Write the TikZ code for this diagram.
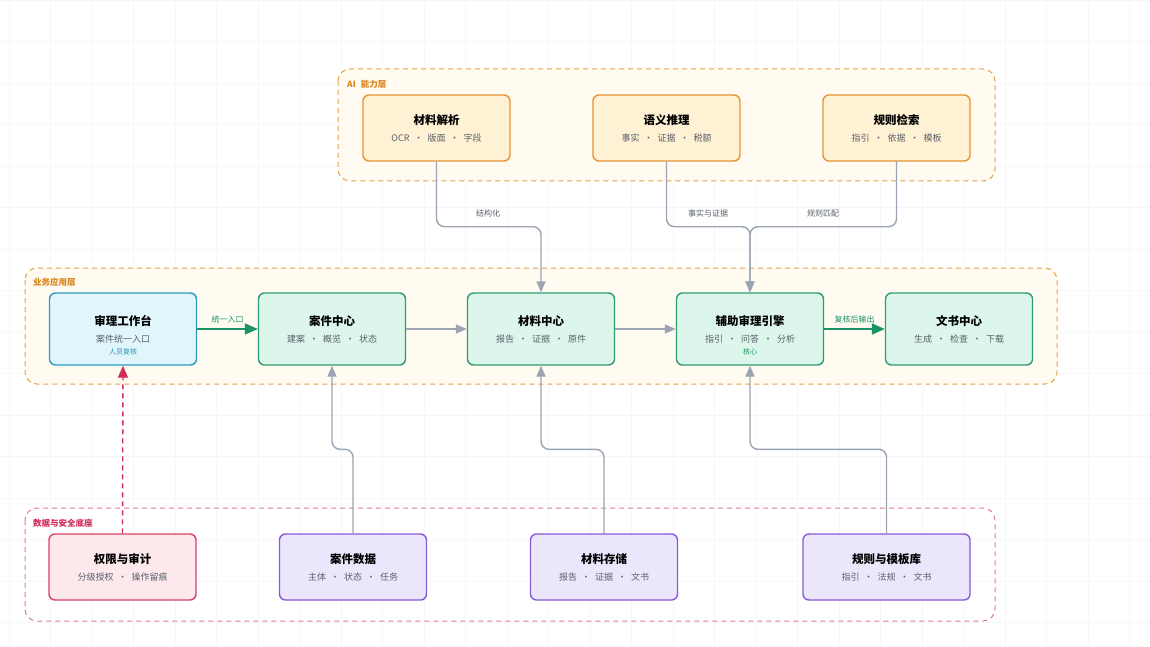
\documentclass[tikz,border=0pt]{standalone}
\usepackage{fontspec}
\setmainfont{Noto Sans CJK SC}
\usetikzlibrary{arrows.meta}

\definecolor{gridline}{HTML}{F6F7F8}
\definecolor{ailine}{HTML}{E3A24A}
\definecolor{aifill}{HTML}{FFFBF1}
\definecolor{aibox}{HTML}{FFF1D4}
\definecolor{aiborder}{HTML}{E39435}
\definecolor{ailabel}{HTML}{D9831C}
\definecolor{bizbox}{HTML}{DCF6EB}
\definecolor{bizborder}{HTML}{2E9C72}
\definecolor{deskbox}{HTML}{E0F6FB}
\definecolor{deskborder}{HTML}{2B9BC3}
\definecolor{deskmark}{HTML}{2B8FC0}
\definecolor{okgreen}{HTML}{1A9466}
\definecolor{secline}{HTML}{E07A98}
\definecolor{seclabel}{HTML}{D12C57}
\definecolor{secbox}{HTML}{FDE8EC}
\definecolor{secborder}{HTML}{D9436A}
\definecolor{databox}{HTML}{ECE6FD}
\definecolor{databorder}{HTML}{8B58D6}
\definecolor{flowgray}{HTML}{9AA4B2}
\definecolor{subtext}{HTML}{5A606B}

\newcommand{\dotsep}{\hspace{4.5pt}·\hspace{4.5pt}}
\newcommand{\boxtext}[2]{{\fontsize{11.5}{14}\selectfont\bfseries #1}\\[6pt]{\color{subtext}#2}}

\begin{document}
\begin{tikzpicture}[x=1pt,y=-1pt,
    box/.style={draw,rounded corners=6pt,line width=1.4pt,minimum width=147pt,
        minimum height=66pt,align=center,inner sep=0pt,font=\fontsize{9}{11}\selectfont},
    aibox/.style={box,fill=aibox,draw=aiborder},
    bizbox/.style={box,fill=bizbox,draw=bizborder,minimum height=72pt},
    deskbox/.style={bizbox,fill=deskbox,draw=deskborder},
    databox/.style={box,fill=databox,draw=databorder},
    secbox/.style={box,fill=secbox,draw=secborder},
    layer/.style={rounded corners=12pt,line width=1pt,dash pattern=on 5pt off 4pt},
    layertitle/.style={anchor=west,font=\fontsize{8.5}{10}\selectfont\bfseries,inner sep=0pt},
    flow/.style={draw=flowgray,line width=1.4pt,rounded corners=8pt,
        -{Triangle[length=11pt,width=9pt]}},
    okflow/.style={draw=okgreen,line width=2pt,-{Triangle[length=13pt,width=11pt]}},
    flowlabel/.style={font=\fontsize{8}{9}\selectfont,text=subtext,inner sep=1pt},
    note/.style={font=\fontsize{7}{8}\selectfont,inner sep=0pt}]

    \useasboundingbox[fill=white] (0,0) rectangle (1150,647);
    \foreach \gx in {9,50.5,...,1150} \draw[gridline,line width=0.6pt] (\gx,0) -- (\gx,647);
    \foreach \gy in {0,41.5,...,647} \draw[gridline,line width=0.6pt] (0,\gy) -- (1150,\gy);

    \draw[layer,draw=ailine,fill=aifill] (338,69) rectangle (995,181);
    \draw[layer,draw=ailine,fill=aifill] (25,268) rectangle (1057,384);
    \draw[layer,draw=secline] (25,508) rectangle (995,621);

    \node[layertitle,text=ailabel]  (ailayer)  at (347,84)  {AI\hspace{5pt}能力层};
    \node[layertitle,text=ailabel]  (bizlayer) at (33,282)  {业务应用层};
    \node[layertitle,text=seclabel] (seclayer) at (33,523)  {数据与安全底座};

    \node[aibox] (parse)  at (436.5,128) {\boxtext{材料解析}{OCR\dotsep 版面\dotsep 字段}};
    \node[aibox] (reason) at (666.5,128) {\boxtext{语义推理}{事实\dotsep 证据\dotsep 税额}};
    \node[aibox] (search) at (896.5,128) {\boxtext{规则检索}{指引\dotsep 依据\dotsep 模板}};

    \node[deskbox] (desk)   at (123,329)  {\boxtext{审理工作台}{案件统一入口}};
    \node[bizbox]  (cases)  at (332,329)  {\boxtext{案件中心}{建案\dotsep 概览\dotsep 状态}};
    \node[bizbox]  (mats)   at (541,329)  {\boxtext{材料中心}{报告\dotsep 证据\dotsep 原件}};
    \node[bizbox]  (engine) at (750,329)  {\boxtext{辅助审理引擎}{指引\dotsep 问答\dotsep 分析}};
    \node[bizbox]  (docs)   at (959,329)  {\boxtext{文书中心}{生成\dotsep 检查\dotsep 下载}};
    \node[note,text=deskmark] (desknote)   at (123,352) {人员复核};
    \node[note,text=okgreen]  (enginenote) at (750,352) {核心};

    \node[secbox]  (audit)    at (122.5,567) {\boxtext{权限与审计}{分级授权\dotsep 操作留痕}};
    \node[databox] (casedata) at (353,567)   {\boxtext{案件数据}{主体\dotsep 状态\dotsep 任务}};
    \node[databox] (store)    at (604,567)   {\boxtext{材料存储}{报告\dotsep 证据\dotsep 文书}};
    \node[databox,minimum width=167pt] (library) at (886.5,567) {\boxtext{规则与模板库}{指引\dotsep 法规\dotsep 文书}};

    \draw[flow] (parse.south) -- ++(0,65) -| (mats.north);
    \draw[flow] (reason.south) -- ++(0,65) -| (engine.north);
    \draw[flow] (search.south) -- ++(0,65) -| (engine.north);
    \node[flowlabel] (structlabel) at (488,213) {结构化};
    \node[flowlabel] (factlabel)   at (708,213) {事实与证据};
    \node[flowlabel] (rulelabel)   at (823,213) {规则匹配};

    \draw[okflow] (desk) -- node[flowlabel,text=okgreen,above=4pt] {统一入口} (cases);
    \draw[flow] (cases) -- (mats);
    \draw[flow] (mats) -- (engine);
    \draw[okflow] (engine) -- node[flowlabel,text=okgreen,above=4pt] {复核后输出} (docs);

    \draw[draw=seclabel,line width=1.4pt,dash pattern=on 5pt off 4pt,
        -{Triangle[length=12pt,width=10pt]}] (audit.north) -- (desk.south);
    \draw[flow] (casedata.north) -- ++(0,-84) -| (cases.south);
    \draw[flow] (store.north) -- ++(0,-84) -| (mats.south);
    \draw[flow] (library.north) -- ++(0,-84) -| (engine.south);
\end{tikzpicture}
\end{document}
